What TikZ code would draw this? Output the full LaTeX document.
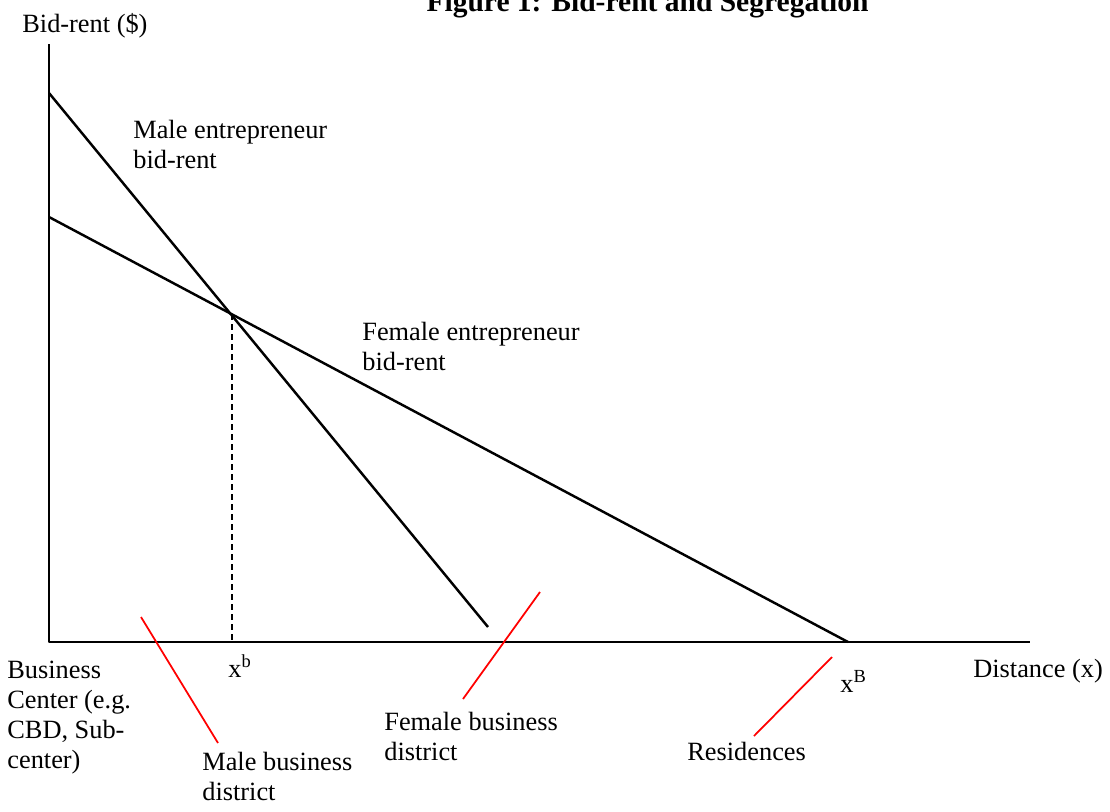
\documentclass[tikz,border=0pt]{standalone}
\usepackage{fontspec}
\setmainfont{Liberation Serif}
\begin{document}
\begin{tikzpicture}[x=0.02cm, y=-0.02cm, font=\fontsize{15}{17}\selectfont, line join=round,
  lbl/.style={anchor=base west, inner sep=0pt, align=left},
  axis/.style={line width=1.6pt},
  bidrent/.style={line width=1.4pt},
  pointer/.style={red, line width=1pt}]
\useasboundingbox (0,0) rectangle (1110,812);
% axes and bid-rent curves
\coordinate (O) at (49,642);
\coordinate (ytop) at (49,44);
\coordinate (xend) at (1030,642);
\coordinate (male0) at (49,93);
\coordinate (male1) at (488,627);
\coordinate (fem0) at (49,217);
\coordinate (fem1) at (848,642);
\coordinate (cross) at (232,314);
\draw[axis] (ytop)--(O)--(xend);
\draw[bidrent] (male0)--(male1);
\draw[bidrent] (fem0)--(fem1);
\draw[line width=1.1pt, dash pattern=on 3.4pt off 2.3pt] (cross)--(cross |- O);
% labels (base = last line)
\node[anchor=base, inner sep=0pt, font=\fontsize{16.8}{20}\selectfont\bfseries] (title) at (647.5,11) {Figure 1: Bid-rent and Segregation};
\node[lbl] (yname) at (22,32) {Bid-rent (\$)};
\node[lbl] (xname) at (973,677) {Distance (x)};
\node[lbl] (malebr) at (133,168) {Male entrepreneur\\bid-rent};
\node[lbl] (fembr) at (362,370) {Female entrepreneur\\bid-rent};
\node[lbl] (center) at (7,768) {Business\\Center (e.g.\\CBD, Sub-\\center)};
\node[lbl] (xb) at (228,677) {x\textsuperscript{b}};
\node[lbl] (xB) at (840,692) {x\textsuperscript{B}};
\node[lbl] (maled) at (202,800) {Male business\\district};
\node[lbl] (femd) at (384,760) {Female business\\district};
\node[lbl] (resid) at (687,760) {Residences};
% pointers to the districts
\coordinate (malep0) at (141,617);
\coordinate (malep1) at (218,743);
\coordinate (femp0) at (540,592);
\coordinate (femp1) at (463,699);
\coordinate (resp0) at (832,657);
\coordinate (resp1) at (754,736);
\draw[pointer] (malep0)--(malep1);
\draw[pointer] (femp0)--(femp1);
\draw[pointer] (resp0)--(resp1);
\end{tikzpicture}
\end{document}
